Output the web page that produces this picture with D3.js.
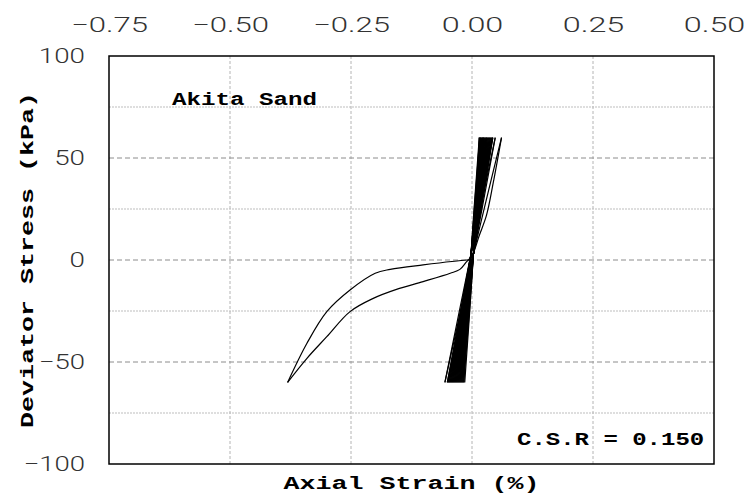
<!DOCTYPE html>
<html>
<head>
<meta charset="utf-8">
<script src="https://cdn.jsdelivr.net/npm/d3@7"></script>
<style>
  body { margin: 0; background: #fff; }
  svg { display: block; }
</style>
</head>
<body>
<div id="chart"></div>
<script>
// axis ticks and grid
const xTicks = [-0.75, -0.5, -0.25, 0, 0.25, 0.5]
const yTicks = [-100, -50, 0, 50, 100]
const xGrid = [-0.5, -0.25, 0, 0.25]
const yMajorGrid = [-50, 0, 50]
const yMinorGrid = [-75, -25, 25, 75]

// first extension from rest to -60 kPa
const firstStrain = [0.000, -0.011, -0.101, -0.169, -0.200, -0.252, -0.300, -0.341, -0.381]
const firstStress = [0.0, 0.0, -2.4, -4.6, -6.5, -14.7, -25.3, -40.8, -60.0]

// reloading from -60 kPa back through zero up to the first +60 kPa peak
const reloadStrain = [-0.381, -0.341, -0.300, -0.252, -0.204, -0.156, -0.101, -0.045, -0.025, -0.011, 0.000, 0.015, 0.030, 0.044, 0.061]
const reloadStress = [-60.0, -48.2, -37.6, -25.3, -18.8, -14.4, -10.6, -6.5, -4.6, -0.8, 2.0, 12.0, 22.0, 38.0, 60.0]

// later cycles: strain at each reversal (alternating -60 / +60 kPa)
const peakStrain = [
  0.061, -0.056, 0.048, -0.051, 0.043, -0.049, 0.042, -0.047, 0.040, -0.045,
  0.038, -0.043, 0.036, -0.041, 0.034, -0.039, 0.032, -0.037, 0.030, -0.035,
  0.029, -0.033, 0.027, -0.031, 0.025, -0.029, 0.024, -0.027, 0.022, -0.025,
  0.021, -0.023, 0.019, -0.021, 0.018, -0.019, 0.016, -0.017, 0.015, -0.015
]
const peakStress = 60
// where loading / unloading branches cross near the waist
const upCross = [-0.002, 3]
const downCross = [0.003, 3]

const labelTitle = 'Akita Sand'
const labelCSR = 'C.S.R = 0.150'
const xTitle = 'Axial Strain (%)'
const yTitle = 'Deviator Stress (kPa)'

const width = 748
const height = 501
const margin = { left: 109, top: 56, right: 34, bottom: 37 }
const plotW = width - margin.left - margin.right
const plotH = height - margin.top - margin.bottom

const tickFont = "Roboto, 'Liberation Mono', 'DejaVu Sans Mono', monospace"
const boldFont = "'Courier New', Courier, 'Nimbus Mono PS', FreeMono, 'Liberation Mono', monospace"

const svg = d3.select('#chart').append('svg')
  .attr('width', width)
  .attr('height', height)

const x = d3.scaleLinear().domain([-0.75, 0.5]).range([0, plotW])
const y = d3.scaleLinear().domain([-100, 100]).range([plotH, 0])

const g = svg.append('g').attr('transform', `translate(${ margin.left }, ${ margin.top })`)

// stretch text to the wide letter pitch of the original
const fit = (sel, pitch) => sel
  .attr('textLength', function() { return this.textContent.length * pitch })
  .attr('lengthAdjust', 'spacingAndGlyphs')

// grid
g.append('g').attr('class', 'grid x')
  .selectAll('line').data(xGrid).enter().append('line')
    .attr('x1', d => x(d)).attr('x2', d => x(d))
    .attr('y1', 0).attr('y2', plotH)
    .attr('stroke', '#b4b4b4').attr('stroke-width', 1)
    .attr('stroke-dasharray', '3,2')

g.append('g').attr('class', 'grid y-minor')
  .selectAll('line').data(yMinorGrid).enter().append('line')
    .attr('x1', 0).attr('x2', plotW)
    .attr('y1', d => y(d)).attr('y2', d => y(d))
    .attr('stroke', '#bdbdbd').attr('stroke-width', 1)
    .attr('stroke-dasharray', '2,1')

g.append('g').attr('class', 'grid y-major')
  .selectAll('line').data(yMajorGrid).enter().append('line')
    .attr('x1', 0).attr('x2', plotW)
    .attr('y1', d => y(d)).attr('y2', d => y(d))
    .attr('stroke', '#8c8c8c').attr('stroke-width', 1)
    .attr('stroke-dasharray', '5,3')

// axes (labels only)
const xAxis = d3.axisTop(x).tickValues(xTicks).tickSize(0).tickPadding(24)
  .tickFormat(d3.format('.2f'))
const xAxisG = g.append('g').attr('class', 'x axis').call(xAxis)
xAxisG.select('.domain').remove()
xAxisG.selectAll('text')
  .attr('font-family', tickFont).attr('font-weight', 300).attr('font-size', 20).attr('fill', '#333')
  .call(fit, 15.4)

const yAxis = d3.axisLeft(y).tickValues(yTicks).tickSize(0).tickPadding(24)
const yAxisG = g.append('g').attr('class', 'y axis').call(yAxis)
yAxisG.select('.domain').remove()
yAxisG.selectAll('text')
  .attr('font-family', tickFont).attr('font-weight', 300).attr('font-size', 20).attr('fill', '#333')
  .call(fit, 15.4)
svg.selectAll('.axis').attr('font-family', null).attr('font-size', null)

// data
const line = d3.line()
  .x(d => x(d[0]))
  .y(d => y(d[1]))
  .curve(d3.curveCatmullRom.alpha(0.5))

const firstPts = firstStrain.map((s, i) => [s, firstStress[i]])
const reloadPts = reloadStrain.map((s, i) => [s, reloadStress[i]])

const branches = []
for (let i = 0; i < peakStrain.length - 1; i++) {
  const a = peakStrain[i]
  const b = peakStrain[i + 1]
  const goingDown = a > b
  const sa = goingDown ? peakStress : -peakStress
  const sb = -sa
  const c = goingDown ? downCross : upCross
  branches.push([[a, sa], c, [b, sb]])
}

const plot = g.append('g').attr('class', 'plot-layer')
plot.selectAll('path.branch').data([firstPts, reloadPts, ...branches]).enter()
  .append('path').attr('class', 'branch')
  .attr('d', line)
  .attr('fill', 'none')
  .attr('stroke', '#000')
  .attr('stroke-width', 1.2)

// frame
g.append('rect')
  .attr('x', 0).attr('y', 0)
  .attr('width', plotW).attr('height', plotH)
  .attr('fill', 'none').attr('stroke', '#000').attr('stroke-width', 1.5)

// annotations
g.append('text')
  .attr('x', 63).attr('y', 49)
  .attr('font-family', boldFont).attr('font-weight', 'bold').attr('font-size', 19)
  .text(labelTitle)
  .call(fit, 14.5)

g.append('text')
  .attr('x', 408).attr('y', 389)
  .attr('font-family', boldFont).attr('font-weight', 'bold').attr('font-size', 19)
  .text(labelCSR)
  .call(fit, 14.4)

svg.append('text')
  .attr('x', margin.left + plotW / 2).attr('y', 489)
  .attr('text-anchor', 'middle')
  .attr('font-family', boldFont).attr('font-weight', 'bold').attr('font-size', 19)
  .text(xTitle)
  .call(fit, 16)

svg.append('text')
  .attr('transform', `translate(33, ${ margin.top + plotH / 2 }) rotate(-90)`)
  .attr('text-anchor', 'middle')
  .attr('font-family', boldFont).attr('font-weight', 'bold').attr('font-size', 19)
  .text(yTitle)
  .call(fit, 16)
</script>
</body>
</html>
